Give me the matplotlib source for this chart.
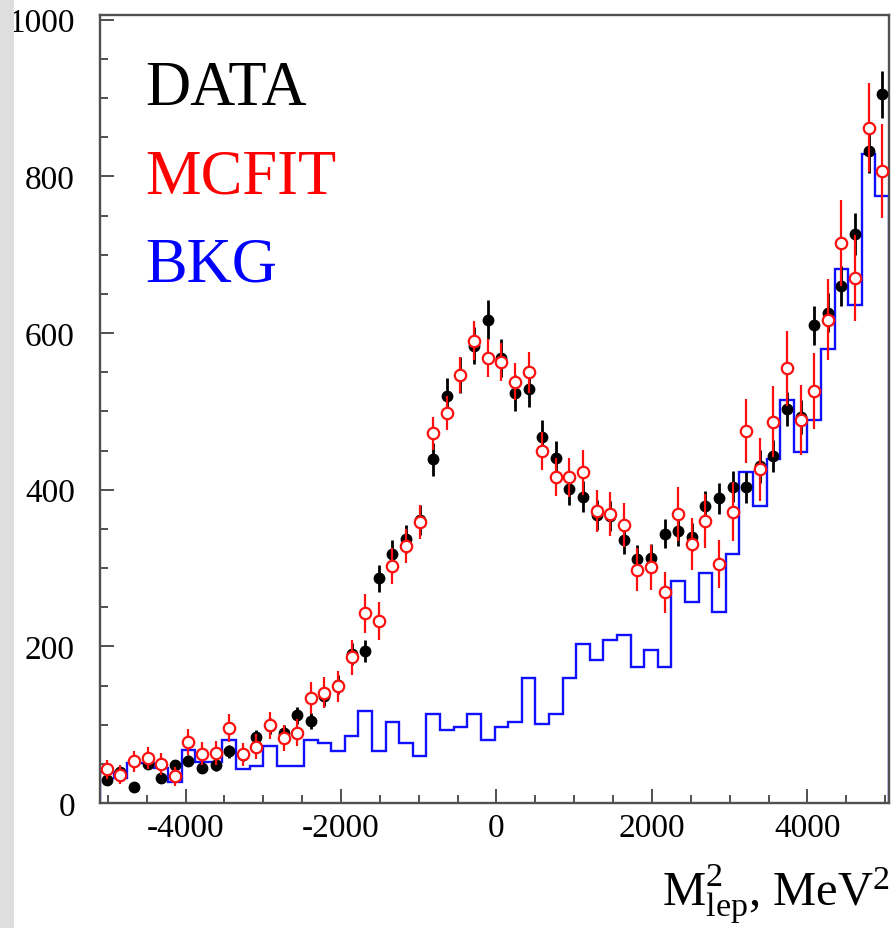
import numpy as np
import matplotlib
matplotlib.use("Agg")
import matplotlib.pyplot as plt
from matplotlib.patches import Rectangle
from matplotlib.ticker import MultipleLocator

plt.rcParams['font.family'] = ['Liberation Serif', 'DejaVu Serif']
plt.rcParams['mathtext.fontset'] = 'custom'
plt.rcParams['mathtext.rm'] = 'Liberation Serif'
plt.rcParams['mathtext.it'] = 'Liberation Serif:italic'
plt.rcParams['axes.unicode_minus'] = False

# ---- binning ----
bin_lo = -5100.0
bin_width = 175.0
n_bins = 58
edges = bin_lo + bin_width * np.arange(n_bins + 1)
centers = 0.5 * (edges[:-1] + edges[1:])

# ---- DATA (black points) ----
data_vals = [30, 40, 21, 50, 32, 48, 54, 45, 48, 66,
             61, 84, 98, 90, 112, 105, 136, 151, 190, 194,
             287, 318, 337, 361, 439, 519, 547, 584, 617, 568,
             523, 528, 467, 441, 401, 391, 368, 366, 336, 312,
             313, 344, 347, 340, 379, 389, 404, 403, 430, 443,
             503, 493, 610, 626, 660, 726, 833, 905]
data_err = [5, 6, 5, 7, 6, 7, 7, 7, 7, 8,
            8, 9, 10, 9, 11, 10, 12, 12, 14, 14,
            17, 18, 18, 19, 21, 23, 23, 24, 25, 24,
            23, 23, 22, 21, 20, 20, 19, 19, 18, 18,
            18, 19, 19, 18, 19, 20, 20, 20, 21, 21,
            22, 22, 25, 25, 26, 27, 29, 30]

# ---- MCFIT (red open circles) ----
mc_vals = [43, 36, 53, 57, 50, 34, 78, 63, 64, 96,
           62, 72, 99, 83, 90, 134, 141, 149, 186, 242,
           232, 303, 328, 359, 472, 498, 547, 590, 568, 563,
           538, 550, 449, 416, 416, 422, 373, 369, 355, 298,
           301, 269, 369, 331, 360, 305, 372, 475, 426, 487,
           555, 489, 526, 617, 715, 670, 862, 807]
mc_err = [12, 12, 13, 14, 14, 12, 17, 15, 15, 18,
          15, 16, 17, 16, 17, 20, 20, 20, 22, 25,
          24, 23, 22, 22, 21, 22, 23, 25, 24, 24,
          24, 26, 24, 24, 25, 29, 27, 28, 28, 27,
          29, 26, 35, 33, 34, 31, 38, 41, 40, 45,
          48, 45, 48, 52, 55, 55, 57, 60]

# ---- BKG (blue histogram) ----
bkg_vals = [39, 32, 51, 51, 45, 27, 68, 52, 52, 80,
            44, 47, 73, 47, 47, 80, 77, 67, 85, 117,
            67, 104, 76, 60, 113, 93, 97, 113, 80, 97,
            104, 159, 101, 113, 159, 203, 183, 208, 214, 174,
            195, 174, 284, 257, 293, 244, 318, 423, 379, 439,
            514, 448, 489, 580, 682, 636, 829, 775]

x_ticks = [-4000, -2000, 0, 2000, 4000]
y_ticks = [0, 200, 400, 600, 800, 1000]

fig = plt.figure(figsize=(8.91, 9.29), dpi=100)
ax = fig.add_axes([100 / 891, 1 - 804 / 929, 789 / 891, 788 / 929])

ax.stairs(bkg_vals, edges, baseline=0, fill=False, color='#1010ff',
          linewidth=1.7, zorder=2)
ax.errorbar(centers, data_vals, yerr=data_err, fmt='o', color='black',
            markersize=7.5, elinewidth=2.0, capsize=0, zorder=3)
ax.errorbar(centers, mc_vals, yerr=mc_err, fmt='o', color='#ff1010',
            markerfacecolor='white', markeredgecolor='#ff1010',
            markeredgewidth=1.6, markersize=8.2, elinewidth=1.6,
            capsize=0, zorder=4)

ax.set_xlim(edges[0], edges[-1])
ax.set_ylim(0, 1006)
ax.set_xticks(x_ticks)
ax.set_yticks(y_ticks)
ax.xaxis.set_minor_locator(MultipleLocator(500))
ax.yaxis.set_minor_locator(MultipleLocator(50))

spine_col = '#505050'
for s in ax.spines.values():
    s.set_color(spine_col)
    s.set_linewidth(1.7)
ax.tick_params(which='both', direction='in', top=False, right=False,
               color=spine_col, width=1.4, labelsize=24)
ax.tick_params(which='major', length=10)
ax.tick_params(which='minor', length=6)
ax.tick_params(axis='y', which='major', pad=18)
ax.tick_params(axis='x', which='major', pad=7)

fig.text(145 / 891, 1 - 105 / 929, 'DATA', color='black', fontsize=45,
         va='baseline', ha='left')
fig.text(145 / 891, 1 - 193 / 929, 'MCFIT', color='#ff0000', fontsize=45,
         va='baseline', ha='left')
fig.text(145 / 891, 1 - 281 / 929, 'BKG', color='#0000ff', fontsize=45,
         va='baseline', ha='left')

fig.text(662 / 891, 1 - 906 / 929,
         r'$\mathrm{M}^{2}_{\mathrm{lep}}$, MeV$^{2}$',
         fontsize=35, va='baseline', ha='left')

fig.patches.append(Rectangle((0, 0), 14 / 891, 1, transform=fig.transFigure,
                             facecolor='#dedede', edgecolor='none', zorder=10))

fig.savefig('out.png', dpi=100)
